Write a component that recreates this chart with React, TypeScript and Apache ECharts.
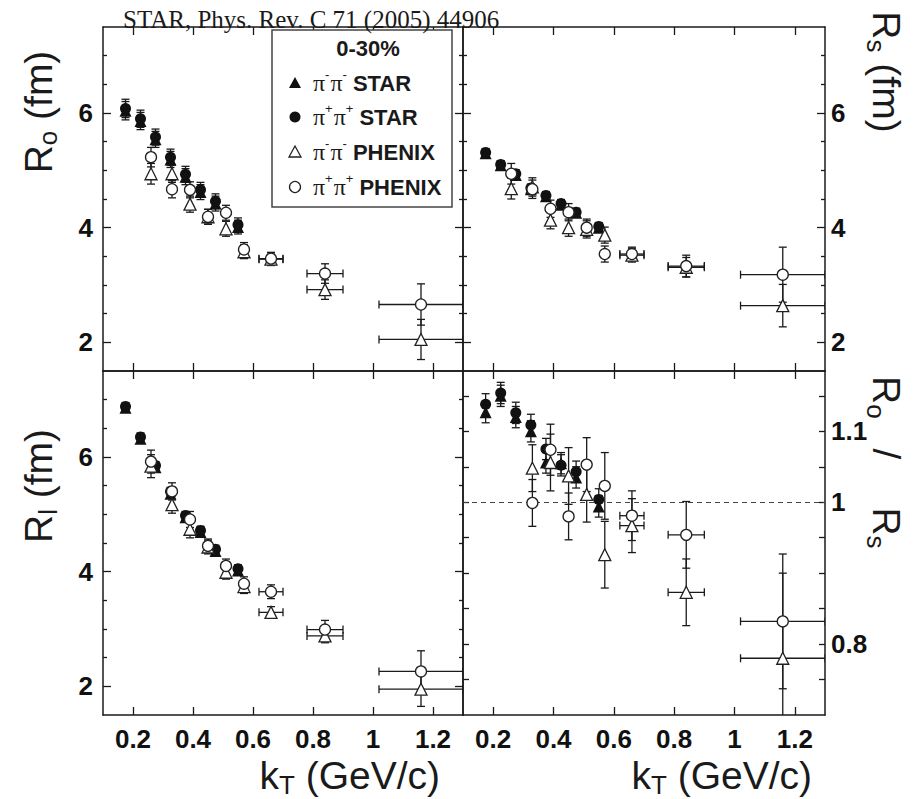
import React, { useEffect, useRef } from 'react';
import * as echarts from 'echarts';

const SANS = "'Liberation Sans', Arial, Helvetica, sans-serif";
const SERIF = "'Liberation Serif', 'Times New Roman', 'DejaVu Serif', serif";
const INK = '#1a1a1a';

// ---- kT values (GeV/c)
const starKt = [0.175, 0.225, 0.275, 0.325, 0.375, 0.425, 0.475, 0.55];
const phenixKt = [0.26, 0.33, 0.39, 0.45, 0.51, 0.57, 0.66, 0.84, 1.16];
const phenixKtErr = [0, 0, 0, 0, 0, 0, 0.04, 0.06, 0.14];
const phenixRatioKt = [0.33, 0.39, 0.45, 0.51, 0.57, 0.66, 0.84, 1.16];
const phenixRatioKtErr = [0, 0, 0, 0, 0, 0.04, 0.06, 0.14];

// ---- R_out (fm)
const roStarMinus = [6.04, 5.86, 5.54, 5.19, 4.89, 4.62, 4.42, 4.01];
const roStarMinusErr = [0.16, 0.15, 0.14, 0.14, 0.14, 0.13, 0.13, 0.12];
const roStarPlus = [6.08, 5.9, 5.58, 5.23, 4.93, 4.66, 4.46, 4.05];
const roStarPlusErr = [0.16, 0.15, 0.14, 0.14, 0.14, 0.13, 0.13, 0.12];
const roPhenixMinus = [4.94, 4.94, 4.41, 4.19, 3.98, 3.58, 3.45, 2.92, 2.05];
const roPhenixMinusErr = [0.18, 0.15, 0.14, 0.13, 0.13, 0.12, 0.11, 0.17, 0.35];
const roPhenixPlus = [5.23, 4.67, 4.66, 4.19, 4.26, 3.62, 3.46, 3.2, 2.66];
const roPhenixPlusErr = [0.17, 0.15, 0.14, 0.13, 0.13, 0.12, 0.11, 0.17, 0.36];

// ---- R_side (fm)
const rsStarMinus = [5.3, 5.09, 4.92, 4.67, 4.55, 4.4, 4.26, 4.0];
const rsStarMinusErr = [0.07, 0.07, 0.07, 0.07, 0.07, 0.07, 0.07, 0.07];
const rsStarPlus = [5.31, 5.1, 4.94, 4.69, 4.56, 4.42, 4.27, 4.02];
const rsStarPlusErr = [0.07, 0.07, 0.07, 0.07, 0.07, 0.07, 0.07, 0.07];
const rsPhenixMinus = [4.68, 4.71, 4.13, 4.0, 3.97, 3.87, 3.52, 3.31, 2.64];
const rsPhenixMinusErr = [0.18, 0.16, 0.15, 0.15, 0.15, 0.14, 0.12, 0.17, 0.37];
const rsPhenixPlus = [4.94, 4.67, 4.33, 4.27, 4.0, 3.54, 3.54, 3.33, 3.18];
const rsPhenixPlusErr = [0.18, 0.16, 0.15, 0.15, 0.15, 0.14, 0.12, 0.19, 0.48];

// ---- R_long (fm)
const rlStarMinus = [6.86, 6.32, 5.82, 5.36, 4.95, 4.69, 4.36, 4.02];
const rlStarMinusErr = [0.07, 0.07, 0.07, 0.07, 0.07, 0.07, 0.07, 0.07];
const rlStarPlus = [6.88, 6.35, 5.85, 5.4, 4.98, 4.72, 4.39, 4.05];
const rlStarPlusErr = [0.07, 0.07, 0.07, 0.07, 0.07, 0.07, 0.07, 0.07];
const rlPhenixMinus = [5.84, 5.17, 4.74, 4.43, 3.99, 3.74, 3.29, 2.88, 1.95];
const rlPhenixMinusErr = [0.2, 0.15, 0.15, 0.12, 0.12, 0.12, 0.1, 0.12, 0.3];
const rlPhenixPlus = [5.92, 5.4, 4.91, 4.45, 4.1, 3.79, 3.65, 2.99, 2.26];
const rlPhenixPlusErr = [0.2, 0.15, 0.14, 0.12, 0.12, 0.12, 0.12, 0.16, 0.36];

// ---- R_out / R_side
const ratioStarMinus = [1.127, 1.15, 1.12, 1.1, 1.056, 1.055, 1.035, 0.994];
const ratioStarMinusErr = [0.015, 0.015, 0.015, 0.015, 0.015, 0.015, 0.015, 0.015];
const ratioStarPlus = [1.138, 1.154, 1.126, 1.109, 1.075, 1.052, 1.043, 1.004];
const ratioStarPlusErr = [0.015, 0.015, 0.015, 0.015, 0.015, 0.015, 0.015, 0.015];
const ratioPhenixMinus = [1.048, 1.056, 1.037, 1.011, 0.926, 0.967, 0.873, 0.78];
const ratioPhenixMinusErr = [0.033, 0.04, 0.04, 0.039, 0.047, 0.038, 0.047, 0.12];
const ratioPhenixPlus = [0.999, 1.074, 0.98, 1.053, 1.023, 0.981, 0.954, 0.832];
const ratioPhenixPlusErr = [0.033, 0.036, 0.033, 0.038, 0.047, 0.035, 0.047, 0.095];

// ---- axis ticks / labels
const xTicks = [0.2, 0.4, 0.6, 0.8, 1, 1.2];
const rTicks = [2, 4, 6];
const rMinorTicks = [2.5, 3, 3.5, 4.5, 5, 5.5, 6.5, 7];
const ratioLabels = [0.8, 1, 1.1];
const ratioTicks = [0.75, 0.8, 0.85, 0.9, 0.95, 1, 1.05, 1.1, 1.15];

const titleText = 'STAR, Phys. Rev. C 71 (2005) 44906';
const centralityText = '0-30%';

type Pt = [number, number, number, number];
const zip = (xs: number[], ys: number[], ey: number[], ex?: number[]): Pt[] =>
  ys.map((y, i) => [xs[i], y, ey[i], ex ? ex[i] : 0]);

const GRIDS = [
  { left: 103, top: 27, width: 360, height: 344 },
  { left: 463, top: 27, width: 362, height: 344 },
  { left: 103, top: 371, width: 360, height: 344 },
  { left: 463, top: 371, width: 362, height: 344 },
];

const lineStyle = { color: INK, width: 1.5 };
const tickStyle = { color: INK, width: 1.3 };
const labelFont = { fontFamily: SANS, fontWeight: 'bold' as const, fontSize: 26, color: '#111' };

function xAx(g: number, position: 'top' | 'bottom', showLabel: boolean) {
  return {
    type: 'value', gridIndex: g, position, min: 0.1, max: 1.3,
    axisLine: { show: true, onZero: false, lineStyle },
    axisTick: { show: true, inside: true, length: 8, customValues: xTicks, lineStyle: tickStyle },
    axisLabel: showLabel ? { show: true, customValues: xTicks, margin: 11, ...labelFont } : { show: false },
    splitLine: { show: false },
  };
}

function yAx(g: number, position: 'left' | 'right', min: number, max: number, ticks: number[], len: number, labels: number[] | null, showLine: boolean, margin = 10) {
  return {
    type: 'value', gridIndex: g, position, min, max,
    axisLine: { show: showLine, onZero: false, lineStyle },
    axisTick: { show: ticks.length > 0, inside: true, length: len, customValues: ticks, lineStyle: tickStyle },
    axisLabel: labels ? { show: true, customValues: labels, margin, ...labelFont } : { show: false },
    splitLine: { show: false },
  };
}

function errItem(params: any, api: any) {
  const x = api.value(0), y = api.value(1), ey = api.value(2), ex = api.value(3);
  const style = { stroke: INK, lineWidth: 1.3 };
  const ch: any[] = [];
  const cap = 4;
  if (ey > 0) {
    const t = api.coord([x, y + ey]);
    const b = api.coord([x, y - ey]);
    ch.push({ type: 'line', shape: { x1: t[0], y1: t[1], x2: b[0], y2: b[1] }, style });
    ch.push({ type: 'line', shape: { x1: t[0] - cap, y1: t[1], x2: t[0] + cap, y2: t[1] }, style });
    ch.push({ type: 'line', shape: { x1: b[0] - cap, y1: b[1], x2: b[0] + cap, y2: b[1] }, style });
  }
  if (ex > 0) {
    const l = api.coord([x - ex, y]);
    const r = api.coord([x + ex, y]);
    ch.push({ type: 'line', shape: { x1: l[0], y1: l[1], x2: r[0], y2: r[1] }, style });
    ch.push({ type: 'line', shape: { x1: l[0], y1: l[1] - cap, x2: l[0], y2: l[1] + cap }, style });
    ch.push({ type: 'line', shape: { x1: r[0], y1: r[1] - cap, x2: r[0], y2: r[1] + cap }, style });
  }
  return { type: 'group', children: ch };
}

const MARK: Record<string, any> = {
  starMinus: { symbol: 'triangle', symbolSize: 12, itemStyle: { color: '#111', opacity: 1 } },
  starPlus: { symbol: 'circle', symbolSize: 11, itemStyle: { color: '#111', opacity: 1 } },
  phenixMinus: { symbol: 'triangle', symbolSize: 12, itemStyle: { color: '#fff', borderColor: '#222', borderWidth: 1.3, opacity: 1 } },
  phenixPlus: { symbol: 'circle', symbolSize: 11, itemStyle: { color: '#fff', borderColor: '#222', borderWidth: 1.3, opacity: 1 } },
};

function panelSeries(g: number, sets: { kind: string; data: Pt[] }[], extra?: any) {
  const out: any[] = [];
  sets.forEach((s) => {
    out.push({
      type: 'custom', xAxisIndex: 2 * g, yAxisIndex: 4 * g, data: s.data, renderItem: errItem,
      clip: true, z: 2, silent: true, encode: { x: 0, y: 1 },
    });
  });
  sets.forEach((s, i) => {
    const ser: any = {
      type: 'scatter', xAxisIndex: 2 * g, yAxisIndex: 4 * g, data: s.data.map((d) => [d[0], d[1]]),
      z: 3 + i, silent: true, ...MARK[s.kind],
    };
    if (extra && i === 0) ser.markLine = extra;
    out.push(ser);
  });
  return out;
}

type Part = { t: string; size: number; family?: string; weight?: string; dy?: number; gap?: number };
function textGroup(parts: Part[], x: number, y: number, rotation: number, anchor: 'start' | 'center' | 'end') {
  const canvas = document.createElement('canvas');
  const ctx = canvas.getContext('2d')!;
  let cur = 0;
  const offs: number[] = [];
  parts.forEach((p) => {
    cur += p.gap || 0;
    offs.push(cur);
    ctx.font = `${p.weight || 'normal'} ${p.size}px ${p.family || SANS}`;
    cur += ctx.measureText(p.t).width;
  });
  const shift = anchor === 'start' ? 0 : anchor === 'center' ? -cur / 2 : -cur;
  return {
    type: 'group', x, y, rotation, silent: true, z: 100,
    children: parts.map((p, i) => ({
      type: 'text', x: offs[i] + shift, y: p.dy || 0, z: 100,
      style: {
        text: p.t, fontSize: p.size, fontFamily: p.family || SANS, fontWeight: p.weight || 'normal',
        fill: INK, align: 'left', verticalAlign: 'middle',
      },
    })),
  };
}

const BIG = 39, SUB = 26, SP = 10.8;

function legendRow(y: number, sign: string, label: string, kind: string) {
  const mx = 295;
  const filled = kind.startsWith('star');
  const style = filled ? { fill: '#111' } : { fill: '#fff', stroke: '#222', lineWidth: 1.3 };
  const marker = kind.endsWith('Minus')
    ? { type: 'polygon', shape: { points: [[mx, y - 6], [mx - 6, y + 5], [mx + 6, y + 5]] }, style, z: 101 }
    : { type: 'circle', shape: { cx: mx, cy: y, r: 5.5 }, style, z: 101 };
  const txt = textGroup(
    [
      { t: 'π', size: 24, family: SERIF },
      { t: sign, size: 13, dy: -9 },
      { t: 'π', size: 24, family: SERIF, gap: 1 },
      { t: sign, size: 13, dy: -9 },
      { t: label, size: 22, weight: 'bold', gap: 6 },
    ],
    313, y, 0, 'start',
  );
  return [marker, txt];
}

export default function App() {
  const ref = useRef<HTMLDivElement>(null);
  useEffect(() => {
    if (!ref.current) return;
    const chart = echarts.init(ref.current, undefined, { renderer: 'svg' });

    const xAxis: any[] = [];
    const yAxis: any[] = [];
    for (let g = 0; g < 4; g++) {
      xAxis.push(xAx(g, 'bottom', g >= 2));
      xAxis.push(xAx(g, 'top', false));
      if (g === 3) {
        yAxis.push(yAx(g, 'left', 0.7, 1.185, ratioTicks, 6, null, true));
        yAxis.push(yAx(g, 'left', 0.7, 1.185, [], 4, null, false));
        yAxis.push(yAx(g, 'right', 0.7, 1.185, ratioTicks, 6, ratioLabels, true, 6));
        yAxis.push(yAx(g, 'right', 0.7, 1.185, [], 4, null, false));
      } else {
        const leftLabels = g === 0 || g === 2 ? rTicks : null;
        const rightLabels = g === 1 ? rTicks : null;
        yAxis.push(yAx(g, 'left', 1.5, 7.5, rTicks, 8, leftLabels, true, 10));
        yAxis.push(yAx(g, 'left', 1.5, 7.5, rMinorTicks, 4, null, false));
        yAxis.push(yAx(g, 'right', 1.5, 7.5, rTicks, 8, rightLabels, true, 6));
        yAxis.push(yAx(g, 'right', 1.5, 7.5, rMinorTicks, 4, null, false));
      }
    }

    const series = [
      ...panelSeries(0, [
        { kind: 'starMinus', data: zip(starKt, roStarMinus, roStarMinusErr) },
        { kind: 'starPlus', data: zip(starKt, roStarPlus, roStarPlusErr) },
        { kind: 'phenixMinus', data: zip(phenixKt, roPhenixMinus, roPhenixMinusErr, phenixKtErr) },
        { kind: 'phenixPlus', data: zip(phenixKt, roPhenixPlus, roPhenixPlusErr, phenixKtErr) },
      ]),
      ...panelSeries(1, [
        { kind: 'starMinus', data: zip(starKt, rsStarMinus, rsStarMinusErr) },
        { kind: 'starPlus', data: zip(starKt, rsStarPlus, rsStarPlusErr) },
        { kind: 'phenixMinus', data: zip(phenixKt, rsPhenixMinus, rsPhenixMinusErr, phenixKtErr) },
        { kind: 'phenixPlus', data: zip(phenixKt, rsPhenixPlus, rsPhenixPlusErr, phenixKtErr) },
      ]),
      ...panelSeries(2, [
        { kind: 'starMinus', data: zip(starKt, rlStarMinus, rlStarMinusErr) },
        { kind: 'starPlus', data: zip(starKt, rlStarPlus, rlStarPlusErr) },
        { kind: 'phenixMinus', data: zip(phenixKt, rlPhenixMinus, rlPhenixMinusErr, phenixKtErr) },
        { kind: 'phenixPlus', data: zip(phenixKt, rlPhenixPlus, rlPhenixPlusErr, phenixKtErr) },
      ]),
      ...panelSeries(3, [
        { kind: 'starMinus', data: zip(starKt, ratioStarMinus, ratioStarMinusErr) },
        { kind: 'starPlus', data: zip(starKt, ratioStarPlus, ratioStarPlusErr) },
        { kind: 'phenixMinus', data: zip(phenixRatioKt, ratioPhenixMinus, ratioPhenixMinusErr, phenixRatioKtErr) },
        { kind: 'phenixPlus', data: zip(phenixRatioKt, ratioPhenixPlus, ratioPhenixPlusErr, phenixRatioKtErr) },
      ], {
        silent: true, symbol: ['none', 'none'], label: { show: false },
        lineStyle: { type: [5, 4], color: '#444', width: 1.2 },
        data: [{ yAxis: 1 }], z: 1,
      }),
    ];

    const graphic: any[] = [
      {
        type: 'rect', shape: { x: 272, y: 30, width: 180, height: 177 }, z: 5, silent: true,
        style: { fill: '#fff', stroke: '#444', lineWidth: 1.5 },
      },
      {
        type: 'text', x: 123, y: 19, z: 100, silent: true,
        style: { text: titleText, fontSize: 25, fontFamily: SERIF, fill: INK, align: 'left', verticalAlign: 'middle' },
      },
      {
        type: 'text', x: 368, y: 48, z: 100, silent: true,
        style: { text: centralityText, fontSize: 22, fontWeight: 'bold', fontFamily: SANS, fill: INK, align: 'center', verticalAlign: 'middle' },
      },
      ...legendRow(83, '-', 'STAR', 'starMinus'),
      ...legendRow(117, '+', 'STAR', 'starPlus'),
      ...legendRow(152, '-', 'PHENIX', 'phenixMinus'),
      ...legendRow(187, '+', 'PHENIX', 'phenixPlus'),
      // axis titles
      textGroup([{ t: 'R', size: BIG }, { t: 'o', size: SUB, dy: 10 }, { t: '(fm)', size: BIG, gap: SP }], 38, 112, Math.PI / 2, 'center'),
      textGroup([{ t: 'R', size: BIG }, { t: 'l', size: SUB, dy: 10 }, { t: '(fm)', size: BIG, gap: SP }], 38, 486, Math.PI / 2, 'center'),
      textGroup([{ t: 'R', size: BIG }, { t: 's', size: SUB, dy: 10 }, { t: '(fm)', size: BIG, gap: SP }], 886, 72, -Math.PI / 2, 'center'),
      textGroup([
        { t: 'R', size: BIG }, { t: 'o', size: SUB, dy: 10 },
        { t: '/', size: BIG, gap: 30 },
        { t: 'R', size: BIG, gap: 48 }, { t: 's', size: SUB, dy: 10 },
      ], 886, 376, -Math.PI / 2, 'start'),
      textGroup([{ t: 'k', size: BIG }, { t: 'T', size: SUB, dy: 10 }, { t: '(GeV/c)', size: BIG, gap: SP }], 440, 775, 0, 'end'),
      textGroup([{ t: 'k', size: BIG }, { t: 'T', size: SUB, dy: 10 }, { t: '(GeV/c)', size: BIG, gap: SP }], 812, 775, 0, 'end'),
    ];

    chart.setOption({
      animation: false,
      backgroundColor: '#fff',
      grid: GRIDS.map((g) => ({ ...g, containLabel: false })),
      xAxis,
      yAxis,
      series,
      graphic,
    });
    return () => chart.dispose();
  }, []);
  return <div ref={ref} style={{ position: 'absolute', left: 0, top: 0, width: 917, height: 799 }} />;
}
